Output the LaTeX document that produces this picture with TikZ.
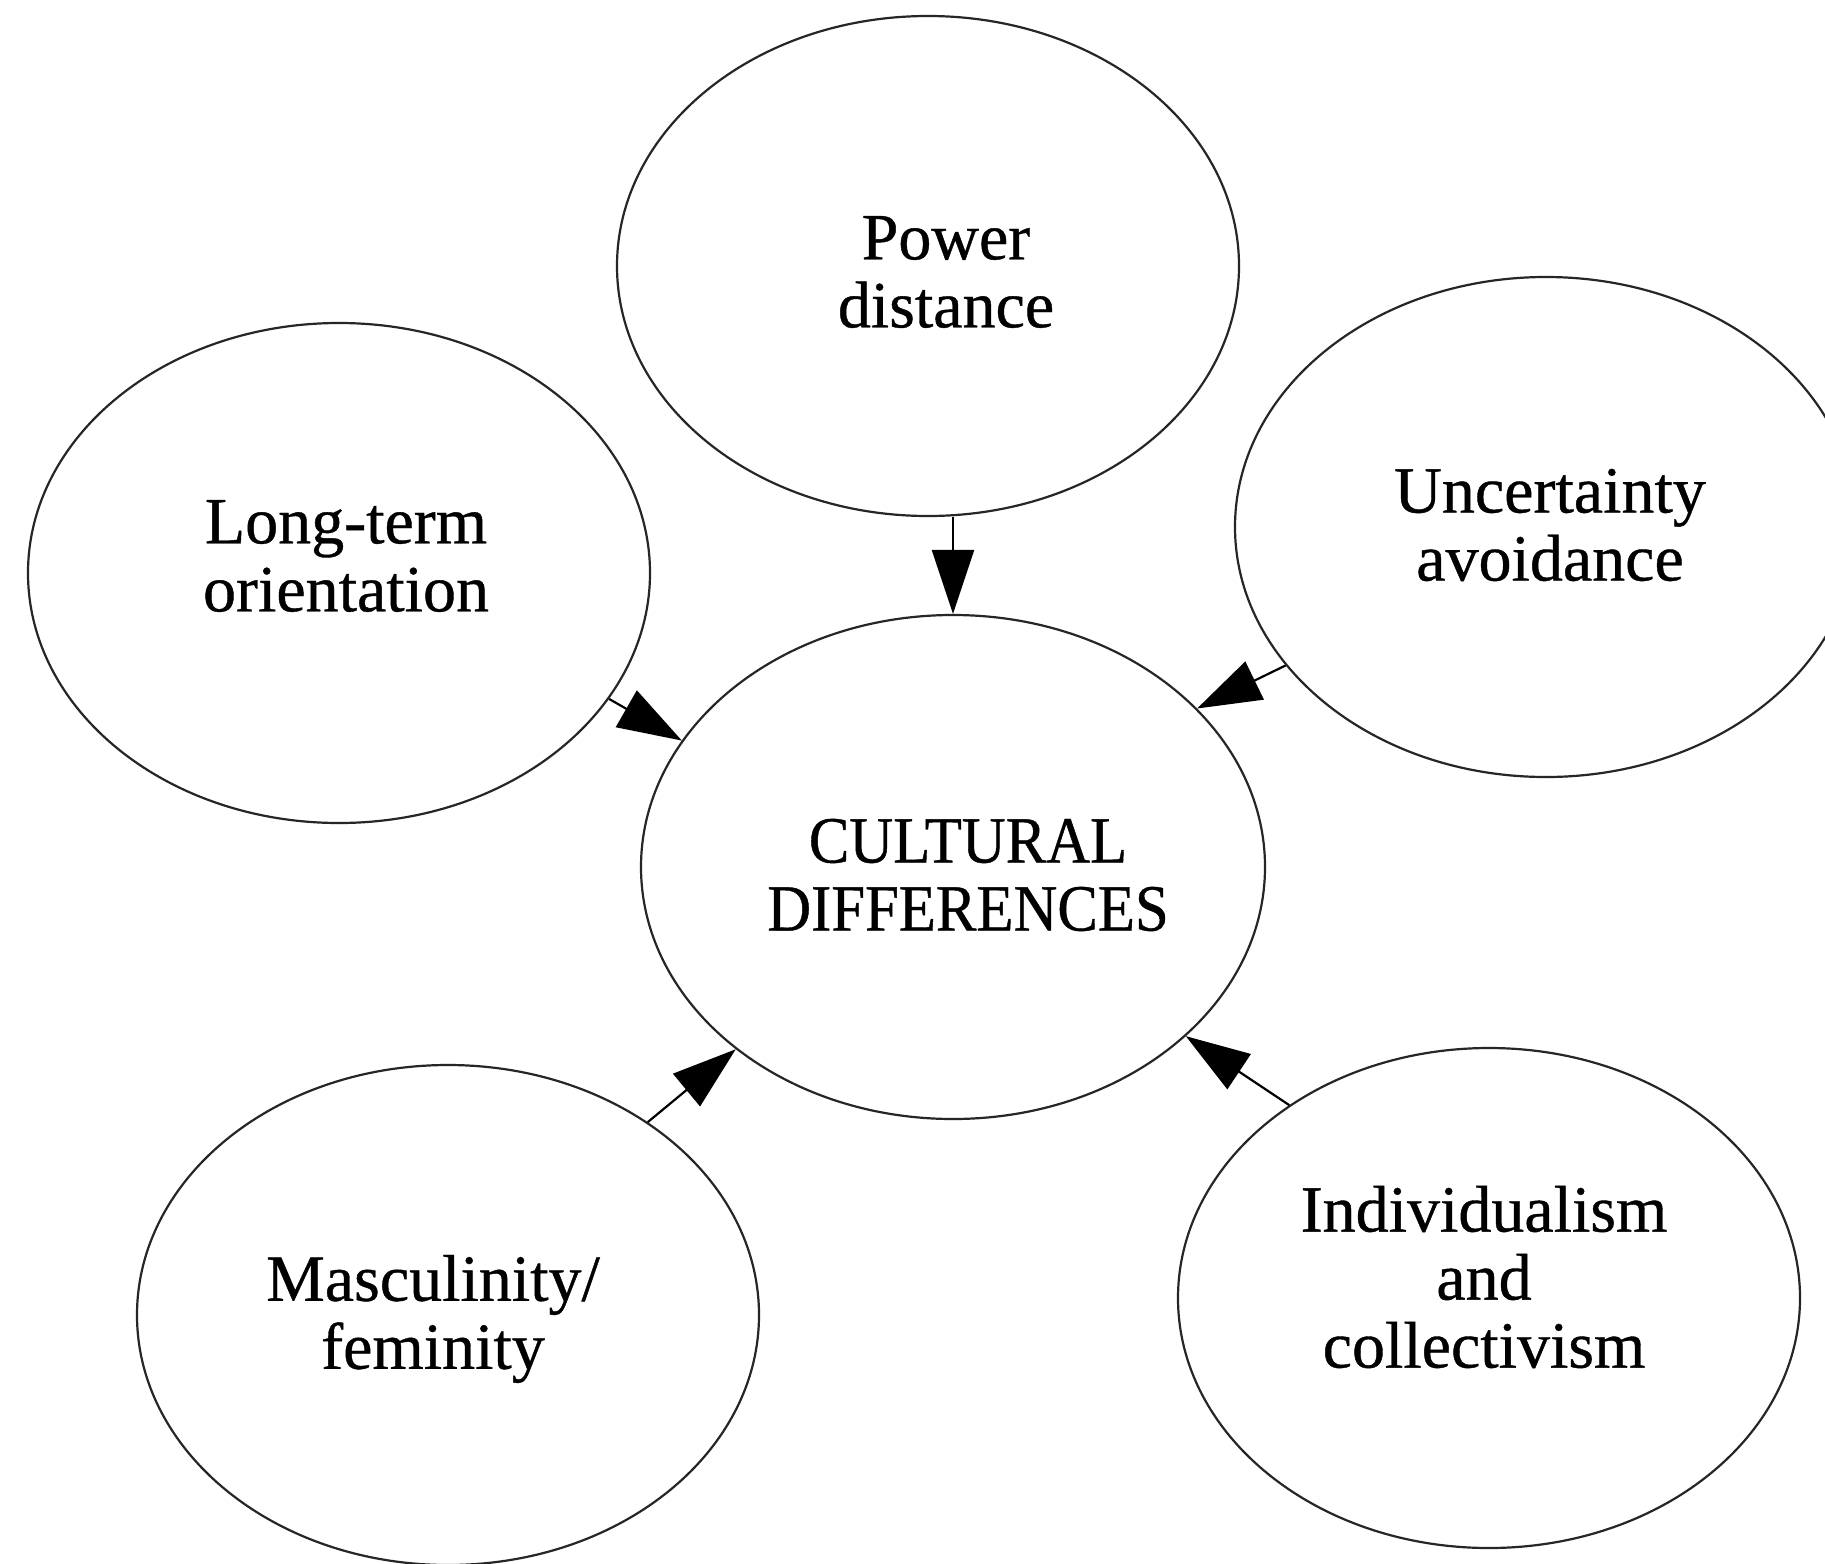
\documentclass[tikz,border=0pt]{standalone}
\usepackage{fontspec}
\setmainfont{Liberation Serif}[FakeBold=0.6]
\newfontfamily\capsfont[FakeStretch=0.92,FakeBold=0.6]{Liberation Serif}
\usetikzlibrary{shapes.geometric,arrows.meta}
\begin{document}
\begin{tikzpicture}[x=1pt,y=-1pt,
  bubble/.style={ellipse,draw=black!85,line width=2.2pt,minimum width=622pt,minimum height=500pt,inner sep=0pt},
  lbl/.style={align=center,font=\fontsize{66}{68}\selectfont,inner sep=0pt},
  arr/.style={line width=2.2pt,-{Triangle[length=64pt,width=42pt]}}]
\useasboundingbox (0,0) rectangle (1825,1563);
\clip (0,0) rectangle (1825,1563);
\fill[white] (0,0) rectangle (1825,1563);
% bubbles
\node[bubble] (pd) at (928,266) {};
\node[bubble] (lt) at (339,573) {};
\node[bubble] (ua) at (1546,527) {};
\node[bubble,minimum width=624pt,minimum height=504pt] (cd) at (953,867) {};
\node[bubble] (mf) at (448,1315) {};
\node[bubble] (ic) at (1489,1298) {};
% labels
\node[lbl] (pdt) at (946,272) {Power\\distance};
\node[lbl] (ltt) at (346,556) {Long-term\\orientation};
\node[lbl] (uat) at (1550,525) {Uncertainty\\avoidance};
\node[lbl,font=\capsfont\fontsize{66}{68}\selectfont] (cdt) at (968,875) {CULTURAL\\DIFFERENCES};
\node[lbl] (mft) at (433,1319) {Masculinity/\\feminity};
\node[lbl] (ict) at (1484,1277) {Individualism\\and\\collectivism};
% connectors
\draw[arr] (cd.north |- pd.south) -- (cd.north);
\draw[arr] (lt.-25.7) -- (cd.155.7);
\draw[arr] (ua.208.1) -- (cd.33);
\draw[arr] (mf.44.3) -- (cd.220);
\draw[arr] (ic.136.5) -- (cd.-36.5);
\end{tikzpicture}
\end{document}
